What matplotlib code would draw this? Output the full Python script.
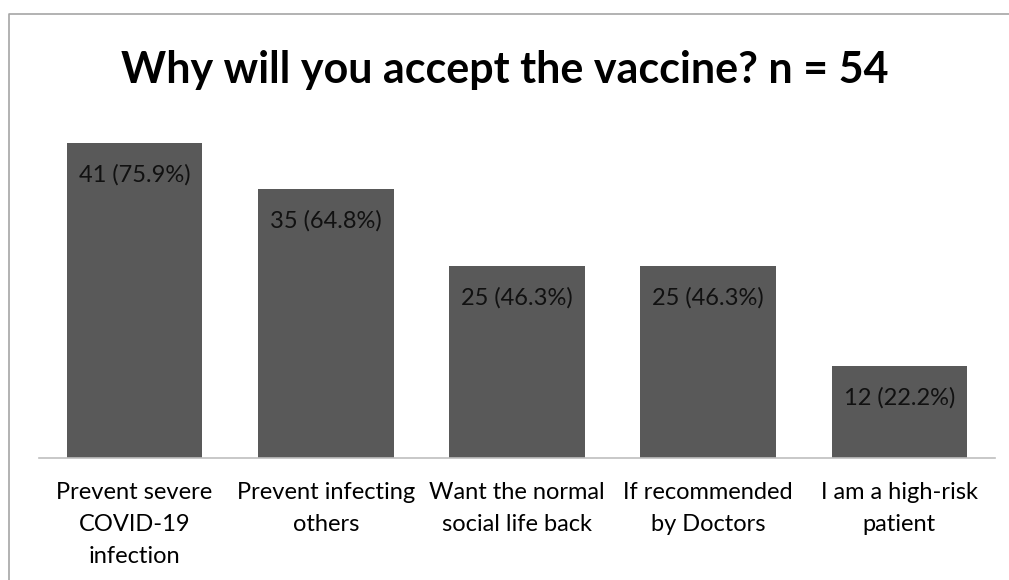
import matplotlib
matplotlib.use('Agg')
import matplotlib.pyplot as plt
from matplotlib.lines import Line2D

categories = ['Prevent severe\nCOVID-19\ninfection', 'Prevent infecting\nothers',
              'Want the normal\nsocial life back', 'If recommended\nby Doctors',
              'I am a high-risk\npatient']
counts = [41, 35, 25, 25, 12]
percents = [75.9, 64.8, 46.3, 46.3, 22.2]

plt.rcParams['font.family'] = ['Lato', 'DejaVu Sans']

W, H = 1009, 580
fig = plt.figure(figsize=(W / 100, H / 100), dpi=100)

# outer chart frame (only left and top edges are visible)
fig.add_artist(Line2D([9 / W, 9 / W, 1.05], [-0.05, 1 - 14 / H, 1 - 14 / H],
                      transform=fig.transFigure, color='#a6a6a6', linewidth=1.2,
                      solid_capstyle='butt'))

ax = fig.add_axes([39 / W, (H - 458) / H, 956 / W, 315 / H])
x = range(len(categories))
bars = ax.bar(x, counts, width=0.71, color='#595959')
ax.set_xlim(-0.5, len(categories) - 0.5)
ax.set_ylim(0, 41)

for b, c, p in zip(bars, counts, percents):
    ax.annotate(f'{c} ({p}%)', (b.get_x() + b.get_width() / 2, b.get_height()),
                xytext=(0, -23), textcoords='offset points', ha='center', va='center',
                fontsize=17, color='#111111')

ax.set_xticks(list(x))
ax.set_xticklabels(categories, fontsize=17, linespacing=1.65)
ax.tick_params(axis='x', length=0, pad=17)
ax.set_yticks([])
for s in ['top', 'right', 'left']:
    ax.spines[s].set_visible(False)
ax.spines['bottom'].set_color('#bfbfbf')
ax.spines['bottom'].set_linewidth(1.2)

fig.text(0.5, 1 - 70 / H, 'Why will you accept the vaccine? n = 54', ha='center', va='center',
         fontsize=31, fontweight='bold')

fig.savefig('out.png', dpi=100)
